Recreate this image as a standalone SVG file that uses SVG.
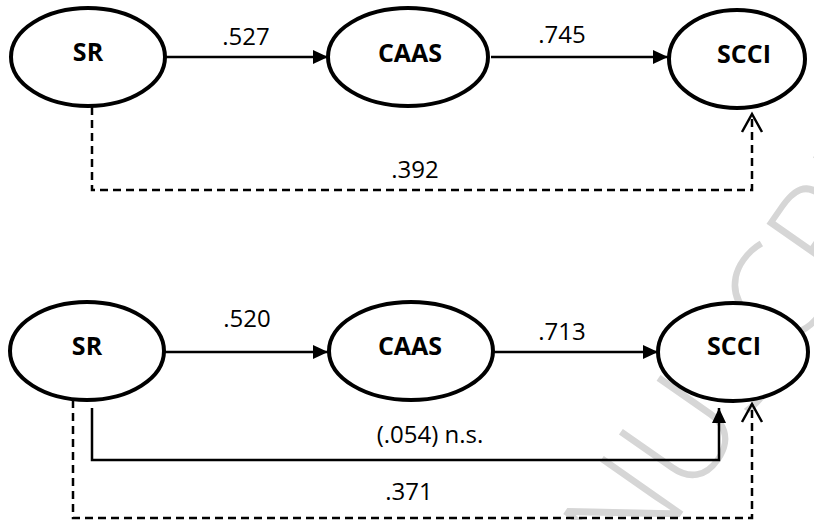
<svg xmlns="http://www.w3.org/2000/svg" width="814" height="520" viewBox="0 0 814 520">
<style>
.node{fill:#fff;stroke:#000;stroke-width:4}
.nlab{font-family:"Open Sans","Liberation Sans",sans-serif;font-weight:bold;font-size:25px;text-anchor:middle;fill:#000}
.elab{font-family:"Open Sans","Liberation Sans",sans-serif;font-size:24px;text-anchor:middle;fill:#000}
.solid{fill:none;stroke:#000;stroke-width:2.5}
.dash{fill:none;stroke:#000;stroke-width:2.5;stroke-dasharray:8 5}
.wm{font-family:"Open Sans","Liberation Sans",sans-serif;font-weight:300;font-size:136px;fill:#d6d6d6}
</style>
<defs>
<marker id="fill" markerUnits="userSpaceOnUse" markerWidth="16" markerHeight="14" refX="15" refY="7" orient="auto" overflow="visible">
<path d="M0,0 L15,7 L0,14 z" fill="#000"/>
</marker>
<marker id="open" markerUnits="userSpaceOnUse" markerWidth="22" markerHeight="22" refX="18" refY="10" orient="auto" overflow="visible">
<path d="M0,0 L18,10 L0,20" fill="none" stroke="#000" stroke-width="2.5"/>
</marker>
</defs>
<rect width="814" height="520" fill="#fff"/>
<text class="wm" transform="translate(560,688) rotate(-55)" text-anchor="middle">ACCEPTED MANUSCRIPT</text>
<g id="connectors">
<path class="solid" d="M166,57 L328,57" marker-end="url(#fill)"/>
<path class="solid" d="M491,57 L668,57" marker-end="url(#fill)"/>
<path class="dash" d="M92,107 L92,190 L752,190 L752,114" marker-end="url(#open)"/>
<path class="solid" d="M165,352 L328,352" marker-end="url(#fill)"/>
<path class="solid" d="M488,352 L658,352" marker-end="url(#fill)"/>
<path class="solid" d="M92,408 L92,460 L719,460 L719,408" marker-end="url(#fill)"/>
<path class="dash" d="M73,400 L73,518 L752,518 L752,404" marker-end="url(#open)"/>
<text class="elab" x="246" y="45">.527</text>
<text class="elab" x="562" y="43">.745</text>
<text class="elab" x="415" y="178">.392</text>
<text class="elab" x="247" y="327">.520</text>
<text class="elab" x="562" y="340">.713</text>
<text class="elab" x="430" y="443">(.054) n.s.</text>
<text class="elab" x="409" y="500">.371</text>
</g>
<g id="sr1"><ellipse class="node" cx="88" cy="57" rx="77" ry="49"/><text class="nlab" x="88" y="61">SR</text></g>
<g id="caas1"><ellipse class="node" cx="408" cy="57" rx="80" ry="49"/><text class="nlab" x="410" y="62">CAAS</text></g>
<g id="scci1"><ellipse class="node" cx="737" cy="59" rx="68" ry="49"/><text class="nlab" x="744" y="63">SCCI</text></g>
<g id="sr2"><ellipse class="node" cx="87" cy="351" rx="77" ry="49"/><text class="nlab" x="87" y="355">SR</text></g>
<g id="caas2"><ellipse class="node" cx="411" cy="351" rx="82" ry="49"/><text class="nlab" x="410" y="355">CAAS</text></g>
<g id="scci2"><ellipse class="node" cx="733" cy="352" rx="75" ry="49"/><text class="nlab" x="734" y="355">SCCI</text></g>
</svg>
